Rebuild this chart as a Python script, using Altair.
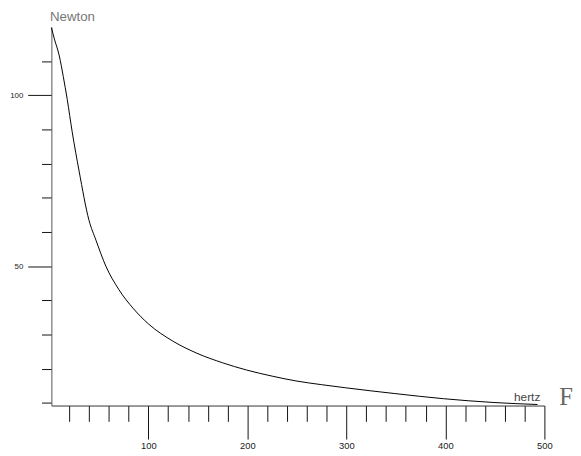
import altair as alt
import pandas as pd

# data
freq = [2, 5, 10, 14, 18, 23, 30, 40, 47, 57, 70, 85, 100, 125, 149, 175, 199, 225, 249, 275, 299, 349, 398, 448, 493]
force = [119.8, 116.5, 111.5, 105.5, 98.8, 89.3, 77.8, 63.4, 57.6, 50.0, 43.2, 37.5, 33.1, 28.0, 24.5, 21.7, 19.6, 17.8, 16.4, 15.3, 14.4, 12.7, 11.2, 10.1, 9.5]

x_ticks = list(range(20, 501, 20))
y_ticks = list(range(10, 111, 10))

df = pd.DataFrame({"hertz": freq, "Newton": force})

x_axis = alt.Axis(
    values=x_ticks,
    labelExpr="datum.value % 100 === 0 ? datum.label : ''",
    tickSize={"condition": {"test": "datum.value % 100 === 0", "value": 34}, "value": 16},
    tickColor="#111",
    tickWidth=1,
    domainColor="#333",
    domainWidth=1,
    labelPadding=2,
    labelFontSize=9.5,
    labelFont="Liberation Sans",
    labelColor="#222",
    labelBaseline="top",
    labelOverlap=False,
    labelFlush=False,
    grid=False,
    title="hertz",
    titleFont="Liberation Sans",
    titleFontSize=12,
    titleFontWeight="normal",
    titleColor="#444",
    titleAngle=0,
    titleAlign="center",
    titleBaseline="alphabetic",
    titleX=482,
    titleY=-5,
)

y_axis = alt.Axis(
    values=y_ticks,
    labelExpr="datum.value % 50 === 0 ? datum.label : ''",
    tickSize={"condition": {"test": "datum.value % 50 === 0", "value": 24}, "value": 10},
    tickColor="#111",
    tickWidth=1,
    domainColor="#555",
    domainWidth=1,
    labelPadding=5,
    labelFontSize=8,
    labelFont="Liberation Sans",
    labelColor="#222",
    labelOverlap=False,
    labelFlush=False,
    grid=False,
    title="Newton",
    titleFont="Liberation Sans",
    titleFontSize=13.5,
    titleFontWeight="normal",
    titleColor="#777",
    titleAngle=0,
    titleAlign="left",
    titleBaseline="alphabetic",
    titleX=-2,
    titleY=-6,
)

line = alt.Chart(df).mark_line(color="#000", strokeWidth=1, interpolate="monotone").encode(
    x=alt.X("hertz:Q", scale=alt.Scale(domain=[2, 500], nice=False, zero=False), axis=x_axis),
    y=alt.Y("Newton:Q", scale=alt.Scale(domain=[9.2, 120], nice=False, zero=False), axis=y_axis),
)

f_label = alt.Chart(pd.DataFrame({"t": ["F"]})).mark_text(
    font="Liberation Serif", fontSize=25, color="#666", align="left", baseline="alphabetic"
).encode(x=alt.value(515), y=alt.value(383), text="t:N")

chart = alt.layer(line, f_label).properties(
    width=500,
    height=384,
    autosize="none",
    padding={"left": 44, "top": 16, "right": 29, "bottom": 46},
).configure(background="white").configure_view(stroke=None, strokeWidth=0)

chart.save("out.html", embed_options={"renderer": "svg", "actions": False})
